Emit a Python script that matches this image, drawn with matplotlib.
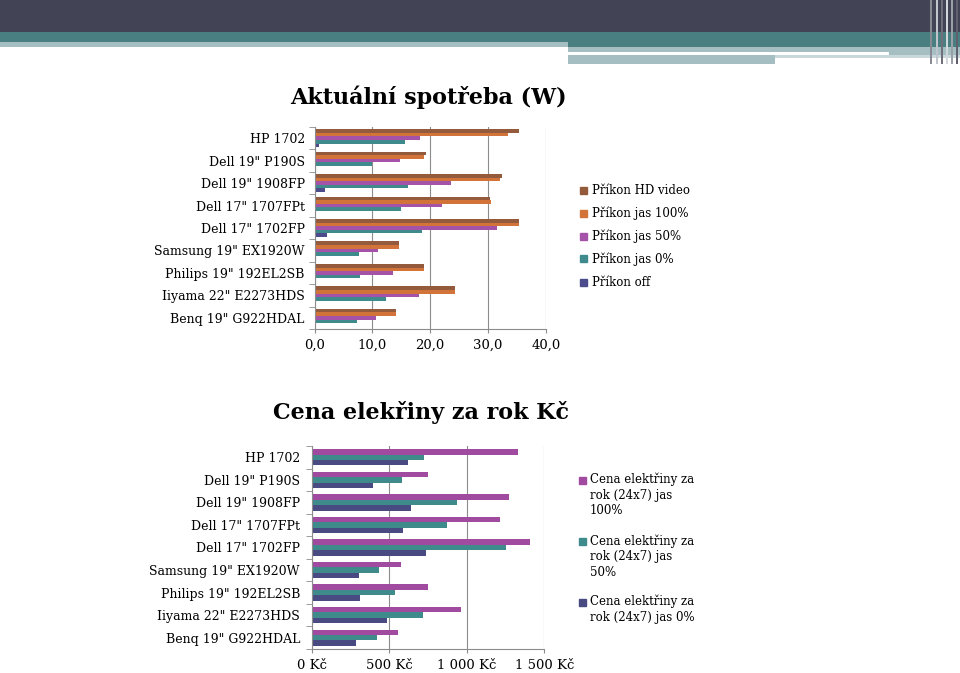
import matplotlib
matplotlib.use("Agg")
import matplotlib.pyplot as plt
from matplotlib.patches import Rectangle
import numpy as np

plt.rcParams['font.family'] = ['DejaVu Serif']

# data
monitors = ['HP 1702', 'Dell 19" P190S', 'Dell 19" 1908FP', 'Dell 17" 1707FPt',
            'Dell 17" 1702FP', 'Samsung 19" EX1920W', 'Philips 19" 192EL2SB',
            'Iiyama 22" E2273HDS', 'Benq 19" G922HDAL']

prikon_hd = [35.3, 19.3, 32.4, 30.4, 35.3, 14.6, 18.9, 24.3, 14.1]
prikon_100 = [33.4, 18.9, 32.0, 30.5, 35.4, 14.6, 18.9, 24.3, 14.0]
prikon_50 = [18.3, 14.7, 23.6, 22.0, 31.6, 11.0, 13.6, 18.1, 10.6]
prikon_0 = [15.7, 10.0, 16.2, 14.9, 18.6, 7.7, 7.8, 12.3, 7.3]
prikon_off = [0.8, 0.3, 1.8, 0.3, 2.2, 0.1, 0.2, 0.1, 0.1]

cena_100 = [1328, 747, 1270, 1212, 1407, 576, 752, 962, 557]
cena_50 = [724, 585, 938, 874, 1255, 437, 537, 715, 418]
cena_0 = [621, 398, 638, 589, 739, 302, 310, 484, 287]

top_names = ['Příkon HD video', 'Příkon jas 100%', 'Příkon jas 50%', 'Příkon jas 0%', 'Příkon off']
top_series = [prikon_hd, prikon_100, prikon_50, prikon_0, prikon_off]
top_colors = ['#935a3b', '#d2733a', '#a553a8', '#3f8a8c', '#4c4c8c']

bot_names = ['Cena elektřiny za\nrok (24x7) jas\n100%', 'Cena elektřiny za\nrok (24x7) jas\n50%',
             'Cena elektřiny za\nrok (24x7) jas 0%']
bot_series = [cena_100, cena_50, cena_0]
bot_colors = ['#a04aa0', '#3f8a8a', '#4a4a82']

top_ticks = [0, 10, 20, 30, 40]
top_ticklabels = ['0,0', '10,0', '20,0', '30,0', '40,0']
bot_ticks = [0, 500, 1000, 1500]
bot_ticklabels = ['0 Kč', '500 Kč', '1 000 Kč', '1 500 Kč']

fig = plt.figure(figsize=(9.6, 6.73), dpi=100)

# header decoration
def band(x0, y0, x1, y1, color):
    fig.patches.append(Rectangle((x0 / 960, 1 - y1 / 673), (x1 - x0) / 960, (y1 - y0) / 673,
                                 transform=fig.transFigure, color=color, zorder=0, lw=0))

band(0, 0, 960, 32, '#424355')
band(0, 32, 568, 42, '#4a7f82')
band(0, 42, 568, 47, '#a4bec2')
band(568, 32, 960, 47, '#4a7f82')
band(568, 47, 960, 52, '#a4bec2')
band(889, 52, 960, 55, '#a4bec2')
band(568, 55, 775, 64, '#a4bec2')
band(775, 55, 960, 58, '#c9d8da')
for xs, c in [(930, '#8a8a95'), (936, '#c0c4cc'), (941, '#70707c'), (946, '#d0d8dc'),
              (951, '#9aa0a8'), (956, '#606070')]:
    band(xs, 0, xs + 2, 64, c)


def style_axes(ax, n, ypad):
    for s in ['top', 'right']:
        ax.spines[s].set_visible(False)
    for s in ['left', 'bottom']:
        ax.spines[s].set_color('#8c8c8c')
        ax.spines[s].set_linewidth(0.8)
    ax.set_ylim(n - 0.5, -0.5)
    ax.set_yticks(np.arange(n))
    ax.set_yticklabels(monitors, fontsize=9)
    ax.set_yticks(np.arange(n + 1) - 0.5, minor=True)
    ax.tick_params(axis='y', which='major', length=0, pad=ypad)
    ax.tick_params(axis='y', which='minor', length=4, color='#8c8c8c', direction='out')
    ax.tick_params(axis='x', length=3, color='#8c8c8c', pad=4, labelsize=9.5)
    ax.grid(axis='x', color='#8c8c8c', lw=0.8)
    ax.set_axisbelow(True)


y = np.arange(len(monitors))

# top chart
ax1 = fig.add_axes([314.5 / 960, 1 - 329 / 673, 231.5 / 960, 202 / 673])
h1 = 0.8 / len(top_series)
for i, (vals, col) in enumerate(zip(top_series, top_colors)):
    ax1.barh(y - 0.4 + h1 * (i + 0.5), vals, height=h1, color=col, zorder=2)
ax1.set_xlim(0, 40)
ax1.set_xticks(top_ticks)
ax1.set_xticklabels(top_ticklabels)
style_axes(ax1, len(monitors), 7)
fig.text(428 / 960, 1 - 97 / 673, 'Aktuální spotřeba (W)', ha='center', va='center',
         fontsize=16, fontweight='bold')

for i, (name, col) in enumerate(zip(top_names, top_colors)):
    yy = 190 + 23 * i
    fig.patches.append(Rectangle((580 / 960, 1 - (yy + 3.5) / 673), 7 / 960, 7 / 673,
                                 transform=fig.transFigure, color=col))
    fig.text(592 / 960, 1 - yy / 673, name, ha='left', va='center', fontsize=8.5)

# bottom chart
ax2 = fig.add_axes([311.7 / 960, 1 - 649 / 673, 232.6 / 960, 203 / 673])
h2 = 0.72 / len(bot_series)
for i, (vals, col) in enumerate(zip(bot_series, bot_colors)):
    ax2.barh(y - 0.36 + h2 * (i + 0.5), vals, height=h2, color=col, zorder=2)
ax2.set_xlim(0, 1500)
ax2.set_xticks(bot_ticks)
ax2.set_xticklabels(bot_ticklabels)
style_axes(ax2, len(monitors), 8.5)
fig.text(421 / 960, 1 - 413 / 673, 'Cena elekřiny za rok Kč', ha='center', va='center',
         fontsize=16, fontweight='bold')

for i, (name, col) in enumerate(zip(bot_names, bot_colors)):
    yy = 480 + 61 * i
    fig.patches.append(Rectangle((579 / 960, 1 - (yy + 3.5) / 673), 7 / 960, 7 / 673,
                                 transform=fig.transFigure, color=col))
    fig.text(590 / 960, 1 - (yy - 7) / 673, name, ha='left', va='top', fontsize=8.5,
             linespacing=1.25)

fig.savefig('out.png', dpi=100)
